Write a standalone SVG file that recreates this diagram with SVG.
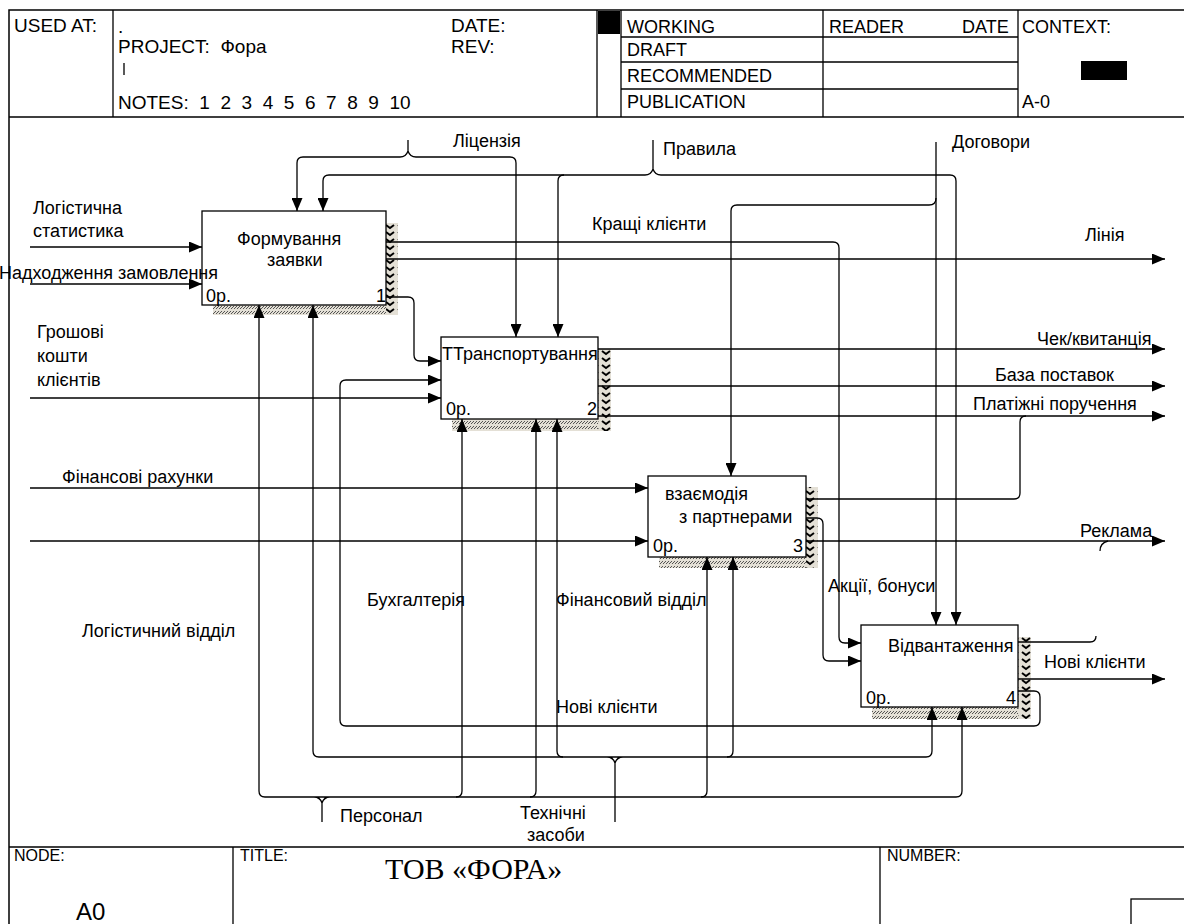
<svg xmlns="http://www.w3.org/2000/svg" width="1184" height="924" viewBox="0 0 1184 924">
<defs>
<style>
text{font-family:"Liberation Sans",Arial,sans-serif;font-size:18px;fill:#000}
.hd{font-size:18px}
.hl{font-size:19px}
.ft{font-size:16px}
.ln{fill:none;stroke:#000;stroke-width:1.3}
.a{marker-end:url(#ah)}
.frame{fill:none;stroke:#000;stroke-width:1.5}
.box{fill:#fff;stroke:#000;stroke-width:1.3}
.sb{fill:url(#hatch)}
.sr{fill:url(#rhatch)}
</style>
<marker id="ah" markerUnits="userSpaceOnUse" markerWidth="13" markerHeight="11" refX="13" refY="5.5" orient="auto">
<path d="M0,0 L13,5.5 L0,11 z" fill="#000"/>
</marker>
<pattern id="hatch" patternUnits="userSpaceOnUse" width="6" height="5">
<rect width="6" height="5" fill="#e4e0d6"/>
<path d="M0,4 L3,1 M3,4 L6,1" stroke="#555" stroke-width="1"/>
</pattern>
<pattern id="rhatch" patternUnits="userSpaceOnUse" width="12" height="7">
<rect width="12" height="7" fill="#e4e0d6"/>
<path d="M2,1 L6,4 L10,1" stroke="#000" stroke-width="2" fill="none"/>
</pattern>
</defs>
<rect width="1184" height="924" fill="#fff"/>

<g id="frame">
<path class="frame" d="M9,924 V10 H1184 M9,117 H1184 M9,847 H1184"/>
<path class="ln" d="M113,10 V117 M597,10 V117 M621,10 V117 M823,10 V117 M1018,10 V117 M621,37 H1018 M621,62 H1018 M621,89 H1018 M124,63 V75"/>
<rect x="598" y="11" width="22" height="23" fill="#000"/>
<rect x="1081" y="61" width="46" height="19" fill="#000"/>
<text class="hl" x="14" y="32">USED AT:</text>
<text class="hl" x="118" y="33">.</text>
<text class="hl" x="118" y="53" xml:space="preserve">PROJECT:  Фора</text>
<text class="hl" x="118" y="109" xml:space="preserve">NOTES:  1  2  3  4  5  6  7  8  9  10</text>
<text class="hl" x="451" y="32">DATE:</text>
<text class="hl" x="451" y="53">REV:</text>
<text class="hd" x="627" y="33">WORKING</text>
<text class="hd" x="627" y="56">DRAFT</text>
<text class="hd" x="627" y="82">RECOMMENDED</text>
<text class="hd" x="627" y="108">PUBLICATION</text>
<text class="hd" x="829" y="33">READER</text>
<text class="hd" x="962" y="33">DATE</text>
<text class="hd" x="1022" y="33">CONTEXT:</text>
<text class="hd" x="1022" y="108">A-0</text>
<path class="ln" d="M233,847 V924 M880,847 V924"/>
<rect x="1131" y="899" width="60" height="30" class="ln"/>
<text class="ft" x="14" y="861">NODE:</text>
<text class="ft" x="240" y="861">TITLE:</text>
<text class="ft" x="887" y="861">NUMBER:</text>
<text x="385" y="879" style="font-family:'Liberation Serif','Times New Roman',serif;font-size:30px">ТОВ «ФОРА»</text>
<text x="76" y="920" style="font-size:24px">A0</text>
</g>

<g id="node1">
<rect class="sb" x="213" y="305" width="185" height="10"/>
<rect class="sr" x="386" y="223" width="12" height="92"/>
<rect class="box" x="202" y="211" width="184" height="94"/>
<text x="237" y="245">Формування</text>
<text x="267" y="266">заявки</text>
<text x="206" y="302">0р.</text>
<text x="376" y="302">1</text>
</g>
<g id="node2">
<rect class="sb" x="452" y="419" width="159" height="12"/>
<rect class="sr" x="598" y="349" width="13" height="82"/>
<rect class="box" x="441" y="337" width="157" height="82"/>
<text x="442" y="360">ТТранспортування</text>
<text x="446" y="415">0р.</text>
<text x="587" y="415">2</text>
</g>
<g id="node3">
<rect class="sb" x="659" y="557" width="159" height="11"/>
<rect class="sr" x="806" y="487" width="12" height="81"/>
<rect class="box" x="648" y="476" width="158" height="81"/>
<text x="665" y="500">взаємодія</text>
<text x="679" y="523">з партнерами</text>
<text x="653" y="552">0р.</text>
<text x="793" y="552">3</text>
</g>
<g id="node4">
<rect class="sb" x="872" y="707" width="159" height="12"/>
<rect class="sr" x="1018" y="637" width="13" height="82"/>
<rect class="box" x="861" y="625" width="157" height="82"/>
<text x="888" y="652">Відвантаження</text>
<text x="866" y="704">0р.</text>
<text x="1006" y="704">4</text>
</g>

<g id="connectors">
<path class="ln a" d="M30,247 H202"/>
<path class="ln a" d="M30,284 H202"/>
<path class="ln a" d="M30,398 H441"/>
<path class="ln a" d="M30,488 H648"/>
<path class="ln a" d="M30,541 H648"/>
<path class="ln" d="M408,140 V151 M400,157 Q406,157 408,151 Q410,157 416,157"/>
<path class="ln a" d="M400,157 H303 Q297,157 297,163 V211"/>
<path class="ln a" d="M416,157 H510 Q516,157 516,163 V337"/>
<path class="ln" d="M653,140 V169 M645,175 Q651,175 653,169 Q655,175 661,175"/>
<path class="ln a" d="M645,175 H329 Q323,175 323,181 V211"/>
<path class="ln a" d="M564,175 Q558,175 558,181 V337"/>
<path class="ln a" d="M661,175 H950 Q956,175 956,181 V625"/>
<path class="ln a" d="M936,142 V625"/>
<path class="ln a" d="M936,198 Q936,205 929,205 H737 Q731,205 731,211 V476"/>
<path class="ln a" d="M386,242 H833 Q839,242 839,248 V637 Q839,643 845,643 H861"/>
<path class="ln a" d="M386,259 H1165"/>
<path class="ln a" d="M386,297 H408 Q414,297 414,303 V355 Q414,361 420,361 H441"/>
<path class="ln a" d="M598,349 H1165"/>
<path class="ln a" d="M598,386 H1165"/>
<path class="ln a" d="M598,416 H1165"/>
<path class="ln" d="M806,499 H1014 Q1020,499 1020,493 V422 Q1020,416 1026,416"/>
<path class="ln a" d="M806,518 H817 Q823,518 823,524 V655 Q823,661 829,661 H861"/>
<path class="ln a" d="M806,541 H1165"/>
<path class="ln" d="M1018,642 H1090 Q1096,642 1096,636"/>
<path class="ln" d="M1100,551 Q1100,543 1108,541"/>
<path class="ln a" d="M1018,679 H1165"/>
<path class="ln a" d="M1018,691 H1034 Q1040,691 1040,697 V720 Q1040,726 1034,726 H346 Q340,726 340,720 V386 Q340,380 346,380 H441"/>
<path class="ln" d="M322,822 V803 M314,797 Q320,797 322,803 Q324,797 330,797 M265,797 H956"/>
<path class="ln a" d="M265,797 Q259,797 259,791 V305"/>
<path class="ln a" d="M456,797 Q462,797 462,791 V419"/>
<path class="ln a" d="M530,797 Q536,797 536,791 V419"/>
<path class="ln a" d="M701,797 Q707,797 707,791 V557"/>
<path class="ln a" d="M956,797 Q962,797 962,791 V707"/>
<path class="ln" d="M615,822 V763 M607,757 Q613,757 615,763 Q617,757 623,757 M319,757 H926"/>
<path class="ln a" d="M319,757 Q313,757 313,751 V305"/>
<path class="ln a" d="M563,757 Q557,757 557,751 V419"/>
<path class="ln a" d="M727,757 Q733,757 733,751 V557"/>
<path class="ln a" d="M926,757 Q932,757 932,751 V707"/>
</g>

<g id="labels">
<text x="33" y="214">Логістична</text>
<text x="33" y="237">статистика</text>
<text x="-1" y="279">Надходження замовлення</text>
<text x="453" y="147">Ліцензія</text>
<text x="663" y="155">Правила</text>
<text x="952" y="148">Договори</text>
<text x="592" y="230">Кращі клієнти</text>
<text x="1085" y="241">Лінія</text>
<text x="37" y="338">Грошові</text>
<text x="37" y="362">кошти</text>
<text x="37" y="386">клієнтів</text>
<text x="1037" y="345">Чек/квитанція</text>
<text x="995" y="381">База поставок</text>
<text x="973" y="410">Платіжні поручення</text>
<text x="62" y="483">Фінансові рахунки</text>
<text x="1080" y="537">Реклама</text>
<text x="828" y="592">Акції, бонуси</text>
<text x="367" y="606">Бухгалтерія</text>
<text x="556" y="606">Фінансовий відділ</text>
<text x="82" y="637">Логістичний відділ</text>
<text x="1044" y="668">Нові клієнти</text>
<text x="556" y="713">Нові клієнти</text>
<text x="340" y="822">Персонал</text>
<text x="520" y="819">Технічні</text>
<text x="527" y="841">засоби</text>
</g>
</svg>
